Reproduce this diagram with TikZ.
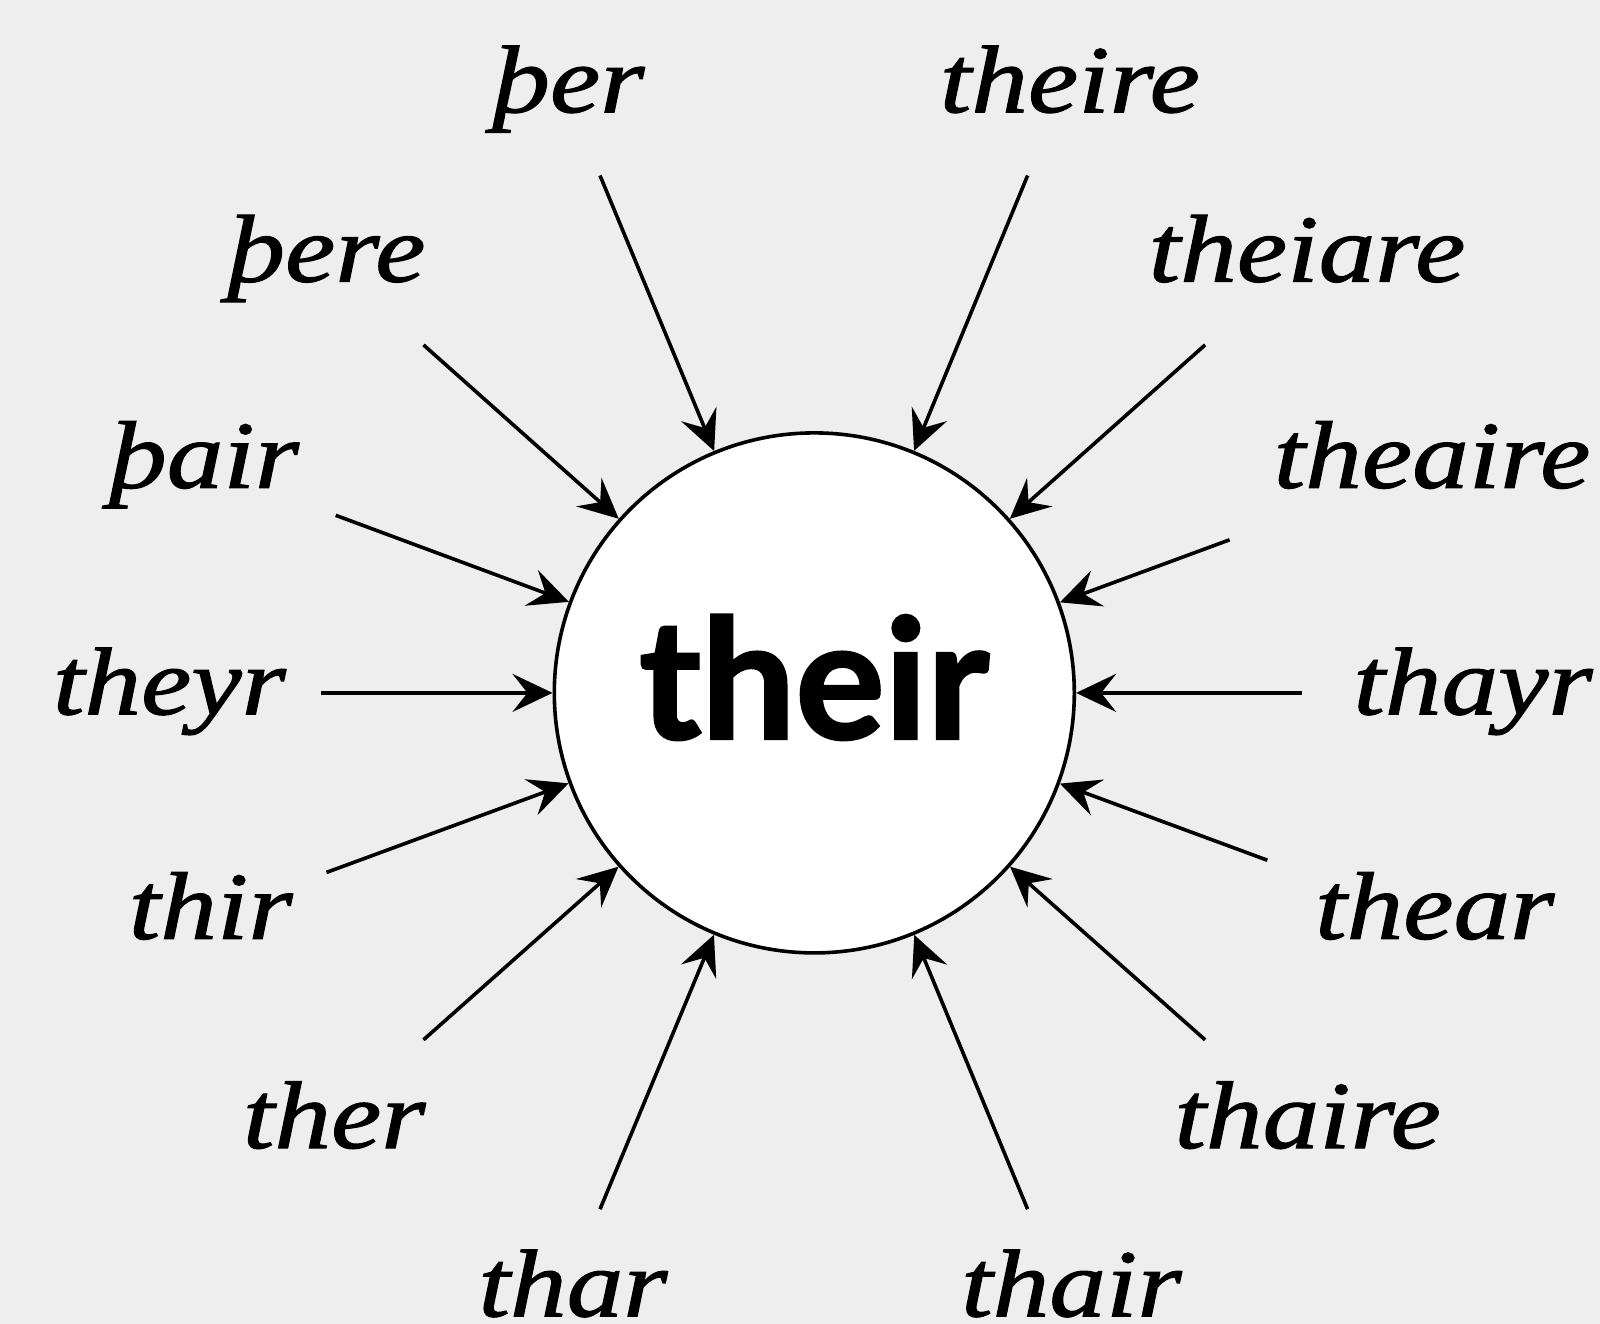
\documentclass[tikz,border=0pt]{standalone}
\usepackage{fontspec}
\setmainfont{Liberation Serif}
\newfontfamily\lbl[FakeStretch=1.18,FakeBold=1.2]{Liberation Serif}
\newfontfamily\lato[FakeBold=1.6]{Lato}
\usetikzlibrary{arrows.meta}
\definecolor{bg}{HTML}{EEEEEE}
\begin{document}
\begin{tikzpicture}[x=1pt,y=-1pt,
  word/.style={anchor=base,inner sep=0pt,font=\lbl\itshape\fontsize{96}{110}\selectfont},
  arr/.style={line width=3.6pt,-{Stealth[length=40pt,width=38pt,inset=15pt]}}]
\fill[bg] (0,0) rectangle (1600,1324);
\useasboundingbox (0,0) rectangle (1600,1324);
\node[circle,draw,fill=white,line width=3.6pt,minimum size=520pt,inner sep=0pt] (their) at (814.3,692.9) {};
\node[anchor=base,inner sep=0pt,font=\lato\bfseries\fontsize{167}{190}\selectfont] (tw) at (814.3,738.8) {their};
% labels
\node[word] (w1) at (568.9,112.2) {þer};
\node[word] (w2) at (1069.9,112.2) {theire};
\node[word] (w3) at (327.0,281.6) {þere};
\node[word] (w4) at (1307.1,281.6) {theiare};
\node[word] (w5) at (204.6,487.8) {þair};
\node[word] (w6) at (1432.1,487.8) {theaire};
\node[word] (w7) at (169.4,714.3) {theyr};
\node[word] (w8) at (1473.0,714.3) {thayr};
\node[word] (w9) at (210.7,938.8) {thir};
\node[word] (w10) at (1434.7,938.8) {thear};
\node[word] (w11) at (334.2,1148.0) {ther};
\node[word] (w12) at (1307.7,1148.0) {thaire};
\node[word] (w13) at (573.0,1316.3) {thar};
\node[word] (w14) at (1071.4,1316.3) {thair};
% arrow starts
\coordinate (s1) at (600,175.5);
\coordinate (s2) at (1027.6,175.5);
\coordinate (s3) at (423.5,344.9);
\coordinate (s4) at (1205.1,344.9);
\coordinate (s5) at (335.7,515.3);
\coordinate (s6) at (1229.6,539.8);
\coordinate (s7) at (321.4,692.9);
\coordinate (s8) at (1302.0,692.9);
\coordinate (s9) at (326.5,872.4);
\coordinate (s10) at (1267.3,860.2);
\coordinate (s11) at (423.5,1039.8);
\coordinate (s12) at (1205.1,1039.8);
\coordinate (s13) at (600,1209.2);
\coordinate (s14) at (1027.6,1209.2);
\foreach \i in {1,...,14} {\draw[arr] (s\i) -- (their);}
\end{tikzpicture}
\end{document}
